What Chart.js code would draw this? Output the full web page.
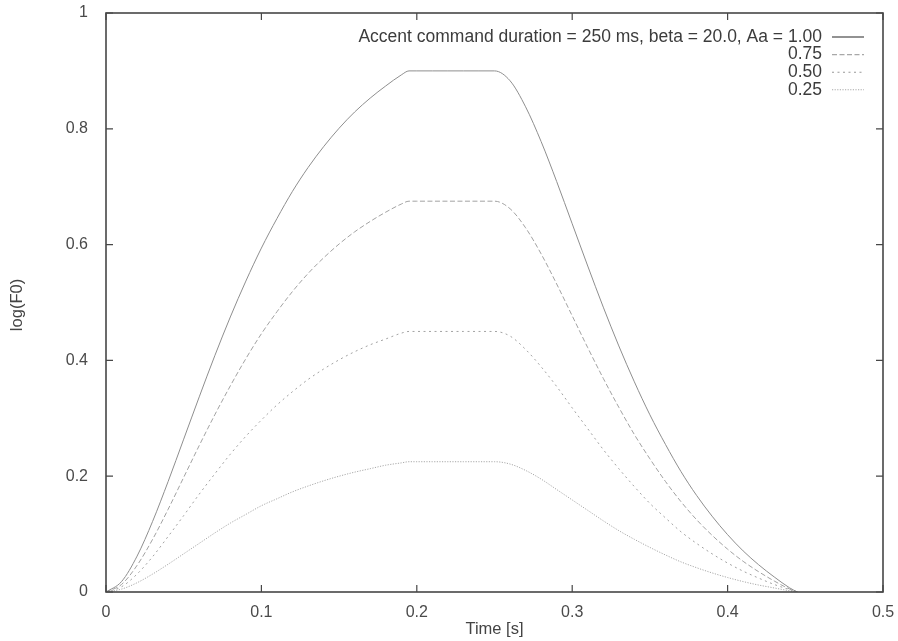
<!DOCTYPE html>
<html>
<head>
<meta charset="utf-8">
<script src="https://cdn.jsdelivr.net/npm/chart.js@4/dist/chart.umd.min.js"></script>
<style>
  html, body { margin: 0; padding: 0; background: #fff; }
</style>
</head>
<body>
<canvas id="c" width="898" height="641"></canvas>
<script>
// time axis samples [s]
const times = [0, 0.01, 0.02, 0.03, 0.04, 0.05, 0.06, 0.07, 0.08, 0.09,
  0.10, 0.11, 0.12, 0.13, 0.14, 0.15, 0.16, 0.17, 0.18, 0.19, 0.195,
  0.20, 0.21, 0.22, 0.23, 0.24, 0.25,
  0.26, 0.27, 0.28, 0.29, 0.30, 0.31, 0.32, 0.33, 0.34, 0.35, 0.36,
  0.37, 0.38, 0.39, 0.40, 0.41, 0.42, 0.43, 0.44, 0.445]

// log(F0), one array per accent amplitude
const aa100 = [0, 0.018, 0.062, 0.122, 0.191, 0.264, 0.337, 0.408, 0.475, 0.537,
  0.594, 0.645, 0.692, 0.733, 0.769, 0.801, 0.829, 0.853, 0.874, 0.893, 0.9,
  0.9, 0.9, 0.9, 0.9, 0.9, 0.9,
  0.883, 0.838, 0.778, 0.709, 0.636, 0.563, 0.492, 0.425, 0.363, 0.306, 0.255,
  0.208, 0.167, 0.131, 0.099, 0.071, 0.047, 0.026, 0.007, 0]
const aa075 = [0, 0.013, 0.046, 0.091, 0.143, 0.198, 0.253, 0.306, 0.356, 0.403,
  0.446, 0.484, 0.519, 0.550, 0.577, 0.601, 0.622, 0.640, 0.656, 0.670, 0.675,
  0.675, 0.675, 0.675, 0.675, 0.675, 0.675,
  0.662, 0.629, 0.584, 0.532, 0.477, 0.422, 0.369, 0.319, 0.272, 0.230, 0.191,
  0.156, 0.125, 0.098, 0.074, 0.053, 0.035, 0.019, 0.005, 0]
const aa050 = [0, 0.009, 0.031, 0.061, 0.096, 0.132, 0.169, 0.204, 0.238, 0.269,
  0.297, 0.323, 0.346, 0.367, 0.385, 0.401, 0.415, 0.427, 0.437, 0.447, 0.45,
  0.45, 0.45, 0.45, 0.45, 0.45, 0.45,
  0.442, 0.419, 0.389, 0.355, 0.318, 0.282, 0.246, 0.213, 0.182, 0.153, 0.128,
  0.104, 0.084, 0.066, 0.050, 0.036, 0.024, 0.013, 0.004, 0]
const aa025 = [0, 0.005, 0.016, 0.031, 0.048, 0.066, 0.084, 0.102, 0.119, 0.134,
  0.149, 0.161, 0.173, 0.183, 0.192, 0.200, 0.207, 0.213, 0.219, 0.223, 0.225,
  0.225, 0.225, 0.225, 0.225, 0.225, 0.225,
  0.221, 0.210, 0.195, 0.177, 0.159, 0.141, 0.123, 0.106, 0.091, 0.077, 0.064,
  0.052, 0.042, 0.033, 0.025, 0.018, 0.012, 0.007, 0.002, 0]

const seriesLabels = ['Accent command duration = 250 ms, beta = 20.0, Aa = 1.00', '0.75', '0.50', '0.25']
const seriesValues = [aa100, aa075, aa050, aa025]
const xTicks = [0, 0.1, 0.2, 0.3, 0.4, 0.5]
const yTicks = [0, 0.2, 0.4, 0.6, 0.8, 1]
const xTitle = 'Time [s]'
const yTitle = 'log(F0)'

const lineColors = ['#8e8e8e', '#a2a2a2', '#a2a2a2', '#a8a8a8']
const legendColors = ['#3a3a3a', '#a8a8a8', '#999999', '#a8a8a8']
const dashes = [[], [5, 2.5], [2, 3.5], [1.2, 1.4]]
const FONT = '"Liberation Sans", Arial, sans-serif'

const fmt = v => (v === 0 ? '0' : v === 1 ? '1' : v.toFixed(1))

// gnuplot-ish frame, inward mirrored ticks, key and axis titles
const gnuplotFrame = {
  id: 'gnuplotFrame',
  afterDatasetsDraw(chart) {
    const { ctx, chartArea: a, scales: { x, y } } = chart
    ctx.save()
    ctx.strokeStyle = '#474747'
    ctx.lineWidth = 1.6
    ctx.setLineDash([])
    ctx.strokeRect(a.left, a.top, a.right - a.left, a.bottom - a.top)

    ctx.lineWidth = 1.2
    ctx.beginPath()
    const len = 7
    xTicks.forEach(v => {
      const px = x.getPixelForValue(v)
      ctx.moveTo(px, a.bottom); ctx.lineTo(px, a.bottom - len)
      ctx.moveTo(px, a.top); ctx.lineTo(px, a.top + len)
    })
    yTicks.forEach(v => {
      const py = y.getPixelForValue(v)
      ctx.moveTo(a.left, py); ctx.lineTo(a.left + len, py)
      ctx.moveTo(a.right, py); ctx.lineTo(a.right - len, py)
    })
    ctx.stroke()

    // key
    ctx.font = '17.5px ' + FONT
    ctx.textAlign = 'right'
    ctx.textBaseline = 'middle'
    const textRight = a.right - 61
    const lineStart = a.right - 51
    const lineEnd = a.right - 19
    seriesLabels.forEach((lab, i) => {
      const ty = a.top + 24 + i * 17.6
      ctx.fillStyle = '#3c3c3c'
      ctx.fillText(lab, textRight, ty)
      ctx.strokeStyle = legendColors[i]
      ctx.lineWidth = 1.1
      ctx.setLineDash(dashes[i])
      ctx.beginPath()
      ctx.moveTo(lineStart, ty)
      ctx.lineTo(lineEnd, ty)
      ctx.stroke()
    })

    // axis titles
    ctx.setLineDash([])
    ctx.fillStyle = '#444'
    ctx.font = '16.5px ' + FONT
    ctx.textAlign = 'center'
    ctx.fillText(xTitle, (a.left + a.right) / 2, 629)
    ctx.translate(17, 305)
    ctx.rotate(-Math.PI / 2)
    ctx.fillText(yTitle, 0, 0)
    ctx.restore()
  }
}

const datasets = seriesValues.map((vals, i) => ({
  label: seriesLabels[i],
  data: times.map((t, k) => ({ x: t, y: vals[k] })),
  borderColor: lineColors[i],
  borderWidth: 1,
  borderDash: dashes[i],
  pointRadius: 0,
  showLine: true,
  fill: false,
  cubicInterpolationMode: 'monotone'
}))

new Chart(document.getElementById('c'), {
  type: 'scatter',
  data: { datasets },
  options: {
    responsive: false,
    animation: false,
    devicePixelRatio: 1,
    layout: { padding: { left: 0, right: 15, top: 13, bottom: 0 } },
    plugins: { legend: { display: false }, tooltip: { enabled: false } },
    scales: {
      x: {
        type: 'linear',
        min: 0,
        max: 0.5,
        afterBuildTicks: s => { s.ticks = xTicks.map(v => ({ value: v })) },
        afterFit: s => {
          s.height = 49
          s.paddingLeft = 0
          s.paddingRight = 0
        },
        grid: { display: false },
        border: { display: false },
        ticks: {
          padding: 3,
          maxRotation: 0,
          color: '#4a4a4a',
          font: { family: FONT, size: 16 },
          callback: v => fmt(v)
        }
      },
      y: {
        type: 'linear',
        min: 0,
        max: 1,
        afterBuildTicks: s => { s.ticks = yTicks.map(v => ({ value: v })) },
        afterFit: s => {
          s.width = 106
          s.paddingTop = 0
          s.paddingBottom = 0
        },
        grid: { display: false },
        border: { display: false },
        ticks: {
          padding: 10,
          color: '#4a4a4a',
          font: { family: FONT, size: 16 },
          callback: v => fmt(v)
        }
      }
    }
  },
  plugins: [gnuplotFrame]
})
</script>
</body>
</html>
